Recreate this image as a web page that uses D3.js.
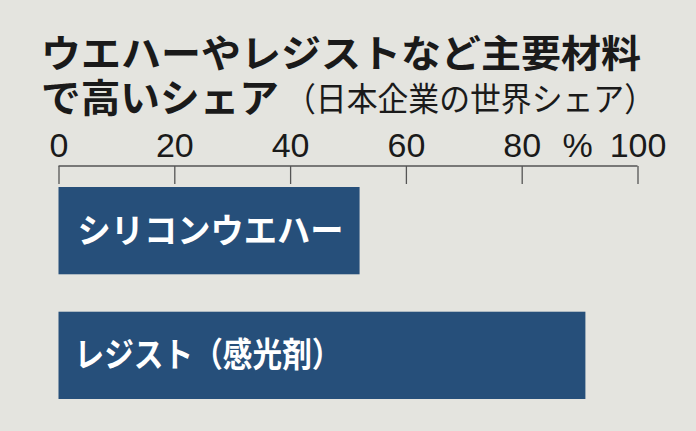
<!DOCTYPE html>
<html><head><meta charset="utf-8">
<script src="https://cdn.jsdelivr.net/npm/d3@7"></script>
<style>
html,body{margin:0;padding:0;background:#e4e4df;}
svg{display:block;}
</style></head>
<body>
<svg id="chart" width="696" height="431"></svg>
<script>
const categories = ["シリコンウエハー", "レジスト（感光剤）"];
const values = [52, 91];
const tickValues = [0, 20, 40, 60, 80, 100];
const tickLabels = ["0", "20", "40", "60", "80", "100"];
const titleLine1 = "ウエハーやレジストなど主要材料";
const titleLine2a = "で高いシェア";
const titleLine2b = "（日本企業の世界シェア）";
const unitLabel = "%";

const svg = d3.select("#chart");
const W = 696, H = 431;
svg.append("rect").attr("width", W).attr("height", H).attr("fill", "#e4e4df");

const jp = "'Noto Sans CJK JP', 'Noto Sans', sans-serif";

// Title
svg.append("text").attr("x", 41).attr("y", 67)
  .attr("font-family", jp).attr("font-weight", 700).attr("font-size", 38)
  .attr("fill", "#1a1a1a").attr("textLength", 600).attr("lengthAdjust", "spacingAndGlyphs")
  .text(titleLine1);
svg.append("text").attr("x", 41).attr("y", 112)
  .attr("font-family", jp).attr("font-weight", 700).attr("font-size", 39)
  .attr("fill", "#1a1a1a").attr("textLength", 238).attr("lengthAdjust", "spacingAndGlyphs")
  .text(titleLine2a);
svg.append("text").attr("x", 285).attr("y", 111)
  .attr("font-family", jp).attr("font-weight", 400).attr("font-size", 33)
  .attr("fill", "#1a1a1a").attr("textLength", 370).attr("lengthAdjust", "spacingAndGlyphs")
  .text(titleLine2b);

// Scales
const x = d3.scaleLinear().domain([0, 100]).range([58.5, 637.5]);
const y = d3.scaleBand().domain(categories).range([187, 399]).paddingInner(0.3).paddingOuter(0);

// Axis
const axis = d3.axisTop(x).tickValues(tickValues).tickSize(0).tickFormat("");
const ag = svg.append("g").attr("transform", "translate(0,166)").call(axis);
ag.select(".domain").remove();
ag.append("line").attr("x1", x(0)).attr("x2", x(100)).attr("y1", 0).attr("y2", 0)
  .attr("stroke", "#555").attr("stroke-width", 1.3);
ag.selectAll(".tick").append("line").attr("y1", 0).attr("y2", 18)
  .attr("stroke", "#555").attr("stroke-width", 1.3);
ag.selectAll(".tick").append("text")
  .attr("y", -9).attr("text-anchor", "middle")
  .attr("font-family", "'Liberation Sans', Arial, sans-serif").attr("font-size", 34)
  .attr("fill", "#1a1a1a")
  .text((d, i) => tickLabels[i]);
svg.append("text").attr("x", x(100) - 60).attr("y", 157).attr("text-anchor", "middle")
  .attr("font-family", "'Liberation Sans', Arial, sans-serif").attr("font-size", 34)
  .attr("fill", "#1a1a1a").text(unitLabel);

// Bars
const labelLen = [266, 267];
const bars = svg.append("g").selectAll("g").data(categories).join("g");
bars.append("rect")
  .attr("x", x(0)).attr("y", d => y(d))
  .attr("width", (d, i) => x(values[i]) - x(0))
  .attr("height", y.bandwidth())
  .attr("fill", "#264f7a");
bars.append("text")
  .attr("x", (d, i) => x(0) + (i === 0 ? 19 : 16)).attr("y", d => y(d) + y.bandwidth() / 2 + 12)
  .attr("font-family", jp).attr("font-weight", 700).attr("font-size", 34)
  .attr("fill", "#ffffff")
  .attr("textLength", (d, i) => labelLen[i]).attr("lengthAdjust", "spacingAndGlyphs")
  .text(d => d);
</script>
</body></html>
